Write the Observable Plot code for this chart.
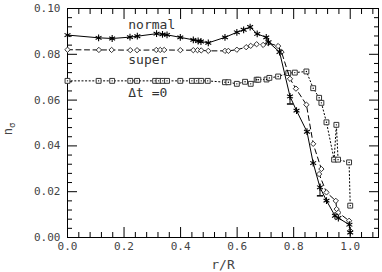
<!DOCTYPE html>
<html><head><meta charset="utf-8">
<script src="https://cdn.jsdelivr.net/npm/d3@7"></script>
<script src="https://cdn.jsdelivr.net/npm/@observablehq/plot@0.6"></script>
<style>body{margin:0;background:#fff}</style>
</head><body><div id="chart"></div>
<script>
// Tick values
const xTicks = [0, 0.2, 0.4, 0.6, 0.8, 1.0];
const yTicks = [0, 0.02, 0.04, 0.06, 0.08, 0.10];

// "normal" series (asterisks, solid line)
const normalR = [0, 0.11, 0.158, 0.221, 0.247, 0.315, 0.336, 0.352, 0.399, 0.445, 0.462, 0.472, 0.498, 0.557, 0.599, 0.623, 0.646, 0.671, 0.703, 0.711, 0.75, 0.787, 0.81, 0.847, 0.869, 0.893, 0.916, 0.946, 0.958, 0.997, 1.0];
const normalN = [0.0884, 0.0872, 0.0869, 0.0875, 0.0879, 0.0890, 0.0887, 0.0885, 0.0874, 0.0863, 0.0858, 0.0856, 0.0850, 0.0874, 0.0896, 0.0907, 0.0919, 0.0889, 0.0874, 0.0853, 0.0810, 0.0616, 0.0554, 0.0462, 0.0325, 0.0219, 0.0161, 0.0095, 0.0085, 0.0056, 0.0022];

// "super" series (diamonds, dashed line)
const superR = [0, 0.111, 0.156, 0.222, 0.246, 0.314, 0.328, 0.342, 0.399, 0.445, 0.460, 0.473, 0.498, 0.557, 0.569, 0.599, 0.632, 0.648, 0.669, 0.692, 0.710, 0.745, 0.757, 0.787, 0.808, 0.845, 0.869, 0.898, 0.890, 0.916, 0.949, 0.952, 0.958, 0.996, 1.0];
const superN = [0.0820, 0.0819, 0.0819, 0.0818, 0.0818, 0.0819, 0.0819, 0.0819, 0.0818, 0.0818, 0.0818, 0.0817, 0.0815, 0.0815, 0.0815, 0.0820, 0.0831, 0.0837, 0.0844, 0.0841, 0.0849, 0.0836, 0.0810, 0.0693, 0.0650, 0.0580, 0.0409, 0.0299, 0.0277, 0.0197, 0.0160, 0.0124, 0.0109, 0.0073, 0.0029];

// "Δt =0" series (squares, dotted line)
const dtR = [0, 0.11, 0.158, 0.222, 0.246, 0.310, 0.322, 0.337, 0.352, 0.399, 0.44, 0.457, 0.473, 0.496, 0.557, 0.569, 0.599, 0.628, 0.648, 0.669, 0.675, 0.704, 0.714, 0.745, 0.781, 0.804, 0.845, 0.869, 0.890, 0.898, 0.916, 0.943, 0.951, 0.957, 0.996, 1.0];
const dtN = [0.0684, 0.0684, 0.0684, 0.0684, 0.0684, 0.0684, 0.0684, 0.0684, 0.0684, 0.0684, 0.0684, 0.0684, 0.0684, 0.0684, 0.0678, 0.0678, 0.0671, 0.0680, 0.0671, 0.0689, 0.0689, 0.0690, 0.0697, 0.0703, 0.0718, 0.0720, 0.0725, 0.0652, 0.0610, 0.0588, 0.0503, 0.0340, 0.0492, 0.0340, 0.0328, 0.0139];

// error bars on the "normal" series
const errR = [0.787, 0.893];
const errLo = [0.0583, 0.0182];
const errHi = [0.0620, 0.0234];

// in-plot series labels
const seriesLabels = ["normal", "super", "Δt =0"];
const labelR = [0.215, 0.215, 0.215];
const labelN = [0.0912, 0.0759, 0.0612];

const rows = (r, n) => r.map((v, i) => ({r: v, n: n[i]}));
const normal = rows(normalR, normalN);
const sup = rows(superR, superN);
const dt = rows(dtR, dtN);
const errs = errR.map((r, i) => ({r, lo: errLo[i], hi: errHi[i]}));
const labels = seriesLabels.map((t, i) => ({t, r: labelR[i], n: labelN[i]}));

const xMinor = d3.range(0, 28).filter(i => i % 5 !== 0).map(i => i * 0.04);
const yMinor = d3.range(0, 26).filter(i => i % 5 !== 0).map(i => i * 0.004);

const capSymbol = {draw(ctx, size) { const w = Math.sqrt(size) * 0.5; ctx.moveTo(-w, 0); ctx.lineTo(w, 0); }};

const tickFont = {fill: "#444", fontSize: 11, fontFamily: "DejaVu Sans Mono"};

const plot = Plot.plot({
  width: 382, height: 272,
  marginLeft: 67, marginRight: 4, marginTop: 8, marginBottom: 35,
  style: {background: "white", color: "black", fontFamily: "DejaVu Sans Mono"},
  x: {domain: [0, 1.1]},
  y: {domain: [0, 0.1]},
  marks: [
    Plot.frame({stroke: "black"}),
    Plot.axisX({ticks: xTicks, anchor: "bottom", tickSize: -10, tickPadding: 15, tickFormat: d3.format(".1f"), label: null, ...tickFont}),
    Plot.axisX({ticks: xTicks, anchor: "top", tickSize: -10, fill: "none", label: null}),
    Plot.axisX({ticks: xMinor, anchor: "bottom", tickSize: -5, fill: "none", label: null}),
    Plot.axisX({ticks: xMinor, anchor: "top", tickSize: -5, fill: "none", label: null}),
    Plot.axisY({ticks: yTicks, anchor: "left", tickSize: -10, tickPadding: 17, tickFormat: d3.format(".2f"), label: null, ...tickFont}),
    Plot.axisY({ticks: yTicks, anchor: "right", tickSize: -10, fill: "none", label: null}),
    Plot.axisY({ticks: yMinor, anchor: "left", tickSize: -5, fill: "none", label: null}),
    Plot.axisY({ticks: yMinor, anchor: "right", tickSize: -5, fill: "none", label: null}),

    Plot.line(dt, {x: "r", y: "n", stroke: "black", strokeWidth: 1, strokeDasharray: "1.2,2.4"}),
    Plot.dot(dt, {x: "r", y: "n", symbol: "square2", r: 3.1, stroke: "#333", strokeWidth: 1, fill: "white"}),
    Plot.dot(dt, {x: "r", y: "n", r: 0.7, fill: "black", stroke: null}),

    Plot.line(sup, {x: "r", y: "n", stroke: "black", strokeWidth: 1, strokeDasharray: "5,3.5"}),
    Plot.dot(sup, {x: "r", y: "n", symbol: "diamond2", r: 2.4, stroke: "#333", strokeWidth: 1, fill: "white"}),

    Plot.line(normal, {x: "r", y: "n", stroke: "black", strokeWidth: 1}),
    Plot.dot(normal, {x: "r", y: "n", symbol: "asterisk", r: 3.2, stroke: "black", strokeWidth: 1.1}),

    Plot.ruleX(errs, {x: "r", y1: "lo", y2: "hi", stroke: "black"}),
    Plot.dot(errs, {x: "r", y: "lo", symbol: capSymbol, r: 3.5, stroke: "black"}),

    Plot.text(labels, {x: "r", y: "n", text: "t", textAnchor: "start", lineAnchor: "bottom", fontSize: 13, fontFamily: "DejaVu Sans Mono", letterSpacing: 0.6, fill: "#333"}),
    Plot.text(["r/R"], {frameAnchor: "bottom", dy: 31, fontSize: 13, fill: "#444"})
  ]
});

const svg = d3.select(plot);
const yl = svg.append("text")
  .attr("transform", "translate(12,129) rotate(-90)")
  .attr("text-anchor", "middle")
  .attr("font-family", "DejaVu Sans Mono")
  .attr("font-size", 12)
  .attr("fill", "#444");
yl.append("tspan").text("n");
yl.append("tspan").attr("dy", 3).attr("font-size", 9).text("σ");

document.getElementById("chart").appendChild(plot);
</script>
</body></html>
